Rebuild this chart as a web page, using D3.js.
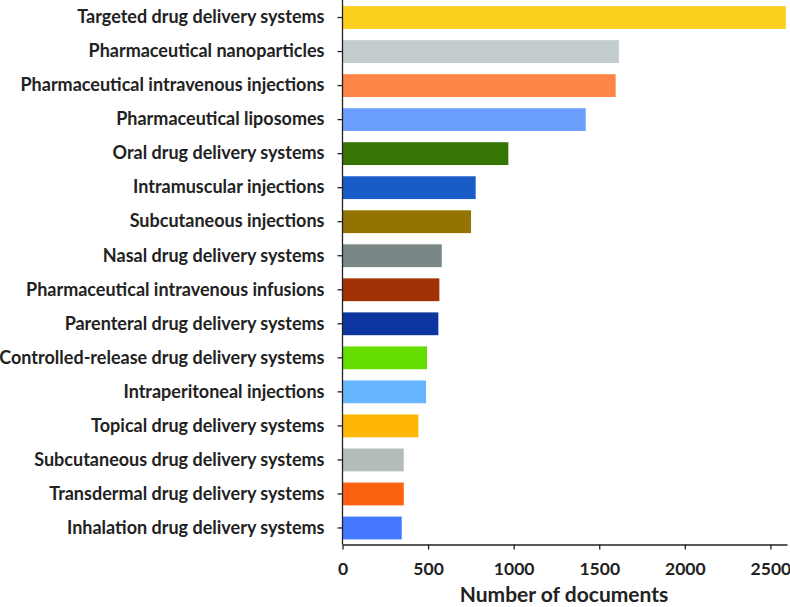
<!DOCTYPE html>
<html>
<head>
<meta charset="utf-8">
<script src="https://cdn.jsdelivr.net/npm/d3@7"></script>
<style>
  body { margin: 0; background: #fff; }
  text { font-family: Lato, "Open Sans", sans-serif; font-weight: bold; fill: #222; }
</style>
</head>
<body>
<script>
var categories = [
  "Targeted drug delivery systems",
  "Pharmaceutical nanoparticles",
  "Pharmaceutical intravenous injections",
  "Pharmaceutical liposomes",
  "Oral drug delivery systems",
  "Intramuscular injections",
  "Subcutaneous injections",
  "Nasal drug delivery systems",
  "Pharmaceutical intravenous infusions",
  "Parenteral drug delivery systems",
  "Controlled-release drug delivery systems",
  "Intraperitoneal injections",
  "Topical drug delivery systems",
  "Subcutaneous drug delivery systems",
  "Transdermal drug delivery systems",
  "Inhalation drug delivery systems"
];
var counts = [2590, 1615, 1596, 1421, 969, 778, 751, 580, 566, 560, 494, 488, 443, 358, 358, 346];
var colors = ["#fccf1e", "#c3cdce", "#ff8447", "#6b9fff", "#367503", "#1a5cc7", "#937403", "#7a8787",
              "#a03206", "#0d35a0", "#66dd00", "#66b5ff", "#ffb703", "#b4bcbc", "#fd6210", "#4477ff"];
var xTicks = [0, 500, 1000, 1500, 2000, 2500];

var width = 790, height = 607;
var plotLeft = 342.5, plotRight = 787, plotTop = 0, axisY = 544.5;

var svg = d3.select('body').append('svg')
  .attr('width', width)
  .attr('height', height);

var xScale = d3.scaleLinear().domain([0, 2597]).range([plotLeft, plotRight]);
var yScale = d3.scaleBand().domain(categories).range([plotTop + 0.5, axisY + 0.5]).paddingInner(0.33).paddingOuter(0.165);

svg.selectAll('rect.bar')
  .data(categories)
  .enter()
  .append('rect')
  .attr('class', 'bar')
  .attr('x', xScale(0))
  .attr('y', (d) => yScale(d))
  .attr('height', yScale.bandwidth())
  .attr('width', (d, i) => xScale(counts[i]) - xScale(0))
  .attr('fill', (d, i) => colors[i]);

var yAxis = svg.append('g')
  .attr('transform', 'translate(' + plotLeft + ',0)')
  .call(d3.axisLeft(yScale).tickSize(5).tickPadding(13));
yAxis.select('.domain').attr('d', 'M0,' + plotTop + 'V' + axisY).attr('stroke', '#222').attr('stroke-width', 1.3);
yAxis.selectAll('.tick line').attr('stroke', '#222').attr('stroke-width', 1.3);
yAxis.selectAll('.tick text').attr('font-size', 18).attr('fill', '#222');

var xAxis = svg.append('g')
  .attr('transform', 'translate(0,' + axisY + ')')
  .call(d3.axisBottom(xScale).tickValues(xTicks).tickFormat(d3.format('d')).tickSize(5).tickPadding(13).tickSizeOuter(0));
xAxis.select('.domain').attr('stroke', '#222').attr('stroke-width', 1.3);
xAxis.selectAll('.tick line').attr('stroke', '#222').attr('stroke-width', 1.3);
xAxis.selectAll('.tick text').attr('font-size', 17.5).attr('fill', '#222');

svg.append('text')
  .attr('x', 564)
  .attr('y', 602)
  .attr('text-anchor', 'middle')
  .attr('font-size', 21)
  .text('Number of documents');
</script>
</body>
</html>
